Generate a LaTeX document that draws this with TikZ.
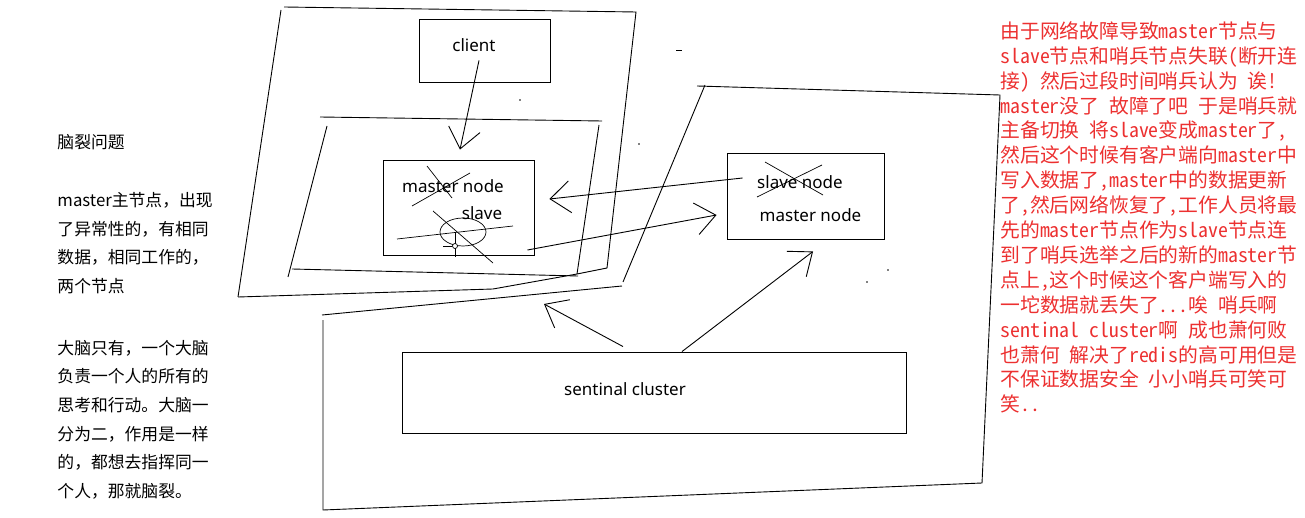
\documentclass[tikz,border=0pt]{standalone}
\usepackage{fontspec}
\usetikzlibrary{positioning, arrows.meta}
\newfontfamily\cjkfont{Noto Sans CJK SC}
\newfontfamily\cjkmono[RawFeature=+hwid]{Noto Sans CJK SC}
\newfontfamily\labelfont{Noto Sans}
\definecolor{notered}{RGB}{236,48,48}
\newcommand\redfont{\cjkmono\fontsize{19.8}{24.9}\selectfont
	\fontdimen2\font=9.9pt\relax\fontdimen3\font=0pt\relax\fontdimen4\font=0pt\relax}

\begin{document}
\begin{tikzpicture}
	[x=1pt, y=-1pt, line width=0.9pt]
	
	\tikzstyle{box} = [rectangle, draw=black, inner sep=0pt]
	
	\tikzstyle{lbl} = [inner sep=0pt, font=\labelfont\fontsize{17}{20}\selectfont]
	
	\tikzstyle{note} = [align=left, anchor=north west, inner sep=0pt, font=\cjkfont\fontsize{16.8}{28.7}\selectfont]
	
	\tikzstyle{rednote} = [align=left, anchor=north west, inner sep=0pt, text=notered, font=\redfont]
	
	\tikzstyle{arrow} = [->, >={Straight Barb[length=20pt,width=32pt]}]
	
	\tikzstyle{cross} = [line width=0.7pt]
	
	\useasboundingbox (0,0) rectangle (1305,518);
	
	% hand drawn frames
	\draw (284,7) -- (636,12) -- (607,268) -- (577,274) -- (493,289) -- (238,297);
	\draw (281,10) -- (238,297);
	\draw (320,117) -- (602,121);
	\draw (599,125) -- (577,274);
	\draw (292,269) -- (578,276);
	\draw (327,126) -- (288,277);
	\draw (322,315) -- (622,286);
	\draw (623,282) -- (705,85);
	\draw (697,86) -- (1000,95) -- (982,483) -- (323,510) -- (323,320);
	
	\node (client) [box, minimum width=131pt, minimum height=63pt] at (484.5,50.5) {};
	\node (master) [box, minimum width=151pt, minimum height=95pt] at (458.5,207.5) {};
	\node (slavebox) [box, minimum width=157pt, minimum height=86pt] at (805.5,196) {};
	\node (sentinel) [box, minimum width=504pt, minimum height=81pt] at (654,392.5) {};
	
	\node (clienttxt) [lbl] at (474,45.5) {client};
	\node (oldmaster) [lbl] at (453,186.5) {master node};
	\node (oldslave) [lbl] at (482,213) {slave};
	\node (slavetxt) [lbl] at (800,182) {slave node};
	\node (newmaster) [lbl] at (810.5,215) {master node};
	\node (senttxt) [lbl] at (625,389) {sentinal cluster};
	\coordinate (oldside) at (544,304);
	
	% crossed out
	\draw [cross] (427,166) -- (452,198);
	\draw [cross] (412,206) -- (470,173);
	\draw [cross] (433,211) -- (493,263);
	\draw [cross] (397,239) -- (513,226);
	\draw [cross] (463,232) ellipse [x radius=23, y radius=14];
	\draw [cross] (455,232) -- (455,257);
	\draw [cross] (443,246) -- (452,246);
	\draw [cross, fill=white] (455,246) circle [radius=2.5];
	\draw [cross] (765,162) -- (823,195);
	\draw [cross] (757,197) -- (822,165);
	
	\draw [arrow] ([xshift=-5.5pt,yshift=22pt]client.south) -- ([xshift=1.5pt,yshift=10pt]master.north);
	\draw [arrow] ([xshift=16pt,yshift=18pt]slavebox.west) -- ([xshift=15pt,yshift=8.5pt]master.east);
	\draw [arrow] ([xshift=-7pt,yshift=-42.5pt]master.east) -- ([xshift=-10pt,yshift=-19pt]slavebox.west);
	\draw [arrow] ([xshift=28pt]sentinel.north) -- ([xshift=7.5pt,yshift=-12pt]slavebox.south);
	\draw [arrow] ([xshift=-31pt,yshift=5pt]sentinel.north) -- (oldside);
	
	% stray marks
	\fill (520,100) circle [radius=0.9];
	\draw (676,50) -- (682,50);
	\fill (639,144) circle [radius=0.9];
	\fill (888,270) circle [radius=0.9];
	\fill (867,282) circle [radius=0.9];
	
	\node (title) [note] at (57,133.5) {脑裂问题};
	\node (para1) [note, below=42pt of title.south west, anchor=north west] {master主节点，出现\\了异常性的，有相同\\数据，相同工作的，\\两个节点};
	\node (para2) [note] at (57,339.5) {大脑只有，一个大脑\\负责一个人的所有的\\思考和行动。大脑一\\分为二，作用是一样\\的，都想去指挥同一\\个人，那就脑裂。};
	
	\node (story) [rednote] at (1000,21) {由于网络故障导致master节点与\\
		slave节点和哨兵节点失联(断开连\\
		接) 然后过段时间哨兵认为 诶!\\
		master没了 故障了吧 于是哨兵就\\
		主备切换 将slave变成master了,\\
		然后这个时候有客户端向master中\\
		写入数据了,master中的数据更新\\
		了,然后网络恢复了,工作人员将最\\
		先的master节点作为slave节点连\\
		到了哨兵选举之后的新的master节\\
		点上,这个时候这个客户端写入的\\
		一坨数据就丢失了...唉 哨兵啊\\
		sentinal cluster啊 成也萧何败\\
		也萧何 解决了redis的高可用但是\\
		不保证数据安全 小小哨兵可笑可\\
		笑..};
	
\end{tikzpicture}
\end{document}
